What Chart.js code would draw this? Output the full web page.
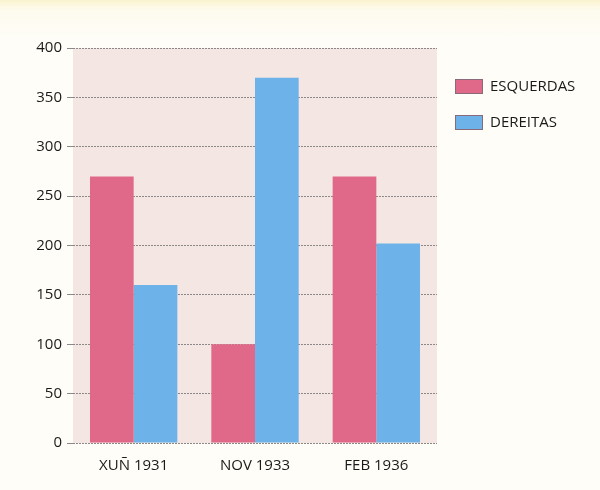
<!DOCTYPE html>
<html>
<head>
<meta charset="utf-8">
<script src="https://cdn.jsdelivr.net/npm/chart.js@4"></script>
<style>
  body { margin: 0; background: linear-gradient(#fbf3cf 0, #fdfbee 10px, #fefdf7 40px); }
  #wrap { width: 600px; height: 490px; }
</style>
</head>
<body>
<div id="wrap"><canvas id="eleccions" width="600" height="490"></canvas></div>
<script>
var categorias = ['XUÑ 1931', 'NOV 1933', 'FEB 1936'];
var esquerdas = [270, 100, 270];
var dereitas = [160, 370, 202];
var ticksY = [0, 50, 100, 150, 200, 250, 300, 350, 400];

var fonte = '"Open Sans", "Noto Sans", sans-serif';

// fondo rosado da area do grafico
var fondoPlugin = {
	id: 'fondo',
	beforeDraw: function(chart) {
		var a = chart.chartArea, ctx = chart.ctx;
		ctx.save();
		ctx.fillStyle = '#f4e6e2';
		ctx.fillRect(a.left, a.top, a.right - a.left, a.bottom - a.top);
		ctx.restore();
	}
};

// lenda a dereita
var lendaPlugin = {
	id: 'lenda',
	afterDraw: function(chart) {
		var ctx = chart.ctx;
		ctx.save();
		chart.data.datasets.forEach(function(ds, i) {
			var y = 79 + i * 36;
			ctx.fillStyle = ds.backgroundColor;
			ctx.fillRect(455, y, 28, 15);
			ctx.strokeStyle = '#8a6a7a';
			ctx.lineWidth = 1;
			ctx.strokeRect(455.5, y + 0.5, 27, 14);
			ctx.fillStyle = '#1a1a1a';
			ctx.font = '15px ' + fonte;
			ctx.textBaseline = 'middle';
			ctx.fillText(ds.label, 490, y + 8);
		});
		ctx.restore();
	}
};

var ctx = document.getElementById('eleccions').getContext('2d');
new Chart(ctx, {
	type: 'bar',
	data: {
		labels: categorias,
		datasets: [{
			label: 'ESQUERDAS',
			data: esquerdas,
			backgroundColor: '#e0698a'
		}, {
			label: 'DEREITAS',
			data: dereitas,
			backgroundColor: '#6db3ea'
		}]
	},
	options: {
		responsive: false,
		animation: false,
		layout: { padding: { top: 48, right: 163, left: 0, bottom: 0 } },
		plugins: {
			legend: { display: false },
			tooltip: { enabled: false }
		},
		datasets: {
			bar: { categoryPercentage: 0.72, barPercentage: 1 }
		},
		scales: {
			x: {
				grid: { display: false, drawTicks: false },
				border: { display: false },
				ticks: { color: '#1a1a1a', padding: 14, font: { family: fonte, size: 15 } },
				afterFit: function(s) { s.height = 47; }
			},
			y: {
				min: 0,
				max: 400,
				afterBuildTicks: function(s) {
					s.ticks = ticksY.map(function(v) { return { value: v }; });
				},
				grid: { color: '#8c8888', lineWidth: 1, tickLength: 6, tickBorderDash: [], drawTicks: true },
				border: { display: false, dash: [2, 1] },
				ticks: { color: '#1a1a1a', padding: 5, font: { family: fonte, size: 15 } },
				afterFit: function(s) { s.width = 73; }
			}
		}
	},
	plugins: [fondoPlugin, lendaPlugin]
});
</script>
</body>
</html>
